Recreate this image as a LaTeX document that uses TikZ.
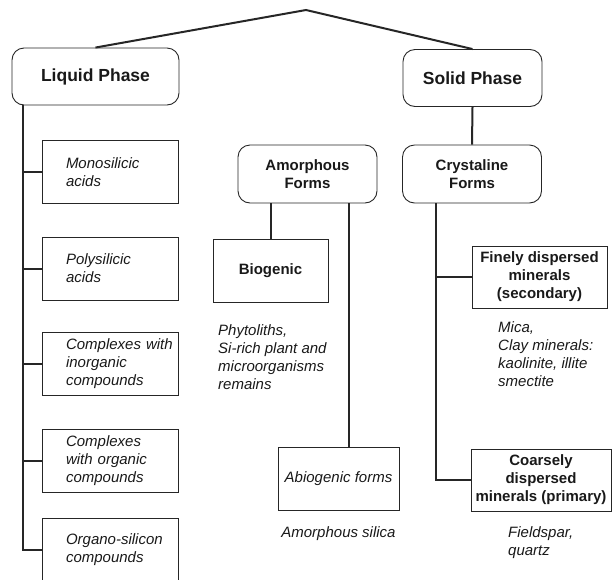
\documentclass[tikz,border=0pt]{standalone}
\usepackage{fontspec}
\setmainfont{Liberation Sans}
\usetikzlibrary{positioning}

\tikzset{
  phasebox/.style={draw=black!85, line width=0.9pt, rounded corners=12pt, minimum height=57pt, text=black!90, font=\fontsize{17.5}{21}\selectfont\bfseries},
  formbox/.style={draw=black!85, line width=0.9pt, rounded corners=12pt, minimum width=139pt, minimum height=58pt, align=center, text=black!90, font=\fontsize{15}{18}\selectfont\bfseries},
  groupbox/.style={draw=black!85, line width=0.9pt, minimum height=63pt, align=center, text=black!90, font=\fontsize{15}{18}\selectfont\bfseries},
  itembox/.style={draw=black!85, line width=0.9pt, text width=130pt, inner xsep=3pt, minimum height=63pt, align=left, text=black!90, font=\fontsize{15}{18}\selectfont\itshape, execute at begin node={\leftskip=21pt}},
  note/.style={inner sep=0pt, align=left, text=black!90, font=\fontsize{15}{18}\selectfont\itshape},
  link/.style={draw=black!85, line width=2pt}
}

\begin{document}
\begin{tikzpicture}[x=1pt, y=-1pt]
\useasboundingbox (0,0) rectangle (612,579);

% top of the tree
\coordinate (apex) at (306,10);
\node[phasebox, minimum width=167pt] (liquid) at (95.5,76.5) {Liquid Phase};
\node[phasebox, minimum width=139pt] (solid) at (472.5,78) {Solid Phase};
\draw[link] (liquid.north) -- (apex) -- (solid.north);

% liquid phase
\node[itembox] (mono) at (110,172) {Monosilicic\\acids};
\node[itembox] (poly) at (110,268.5) {Polysilicic\\acids};
\node[itembox] (inorg) at (110,363.5) {Complexes with\\inorganic\\compounds};
\node[itembox] (org) at (110,460.5) {Complexes\\with organic\\compounds};
\node[itembox] (organo) at (110,549.5) {Organo-silicon\\compounds};

\coordinate (ltrunk) at ([xshift=11pt]liquid.south west);
\draw[link] (ltrunk) |- (organo.west);
\foreach \n in {mono,poly,inorg,org}
  \draw[link] (\n.west) -- (\n.west -| ltrunk);

% solid phase
\node[formbox] (amorph) at (307.5,174) {Amorphous\\Forms};
\node[formbox] (cryst) at (472,174) {Crystaline\\Forms};
\draw[link] (solid.south) -- (cryst.north);

\node[groupbox, minimum width=115pt] (biog) at (270.5,270.5) {Biogenic};
\node[groupbox, minimum width=121pt, font=\fontsize{15}{18}\selectfont\itshape] (abiog) at (338.5,478.5) {Abiogenic forms};
\draw[link] (biog.north) -- (biog.north |- amorph.south);
\coordinate (abline) at ([xshift=41pt]amorph.south);
\draw[link] (abline) -- (abline |- abiog.north);

\node[groupbox, minimum width=135pt, minimum height=62pt] (fine) at (539.5,277) {Finely dispersed\\minerals\\(secondary)};
\node[groupbox, minimum width=140pt, minimum height=62pt] (coarse) at (541,480) {Coarsely\\dispersed\\minerals (primary)};
\coordinate (ctrunk) at ([xshift=34pt]cryst.south west);
\draw[link] (ctrunk) |- (coarse.west);
\draw[link] (fine.west) -- (fine.west -| ctrunk);

% notes under the boxes
\node[note, anchor=north west] (phyto) at (218,324) {Phytoliths,\\Si-rich plant and\\microorganisms\\remains};
\node[note, below=16pt of abiog] (amsil) {Amorphous silica};
\node[note, anchor=north west] (mica) at (498,321) {Mica,\\Clay minerals:\\kaolinite, illite\\smectite};
\node[note, anchor=north west] (felds) at (508,526) {Fieldspar,\\quartz};
\end{tikzpicture}
\end{document}
